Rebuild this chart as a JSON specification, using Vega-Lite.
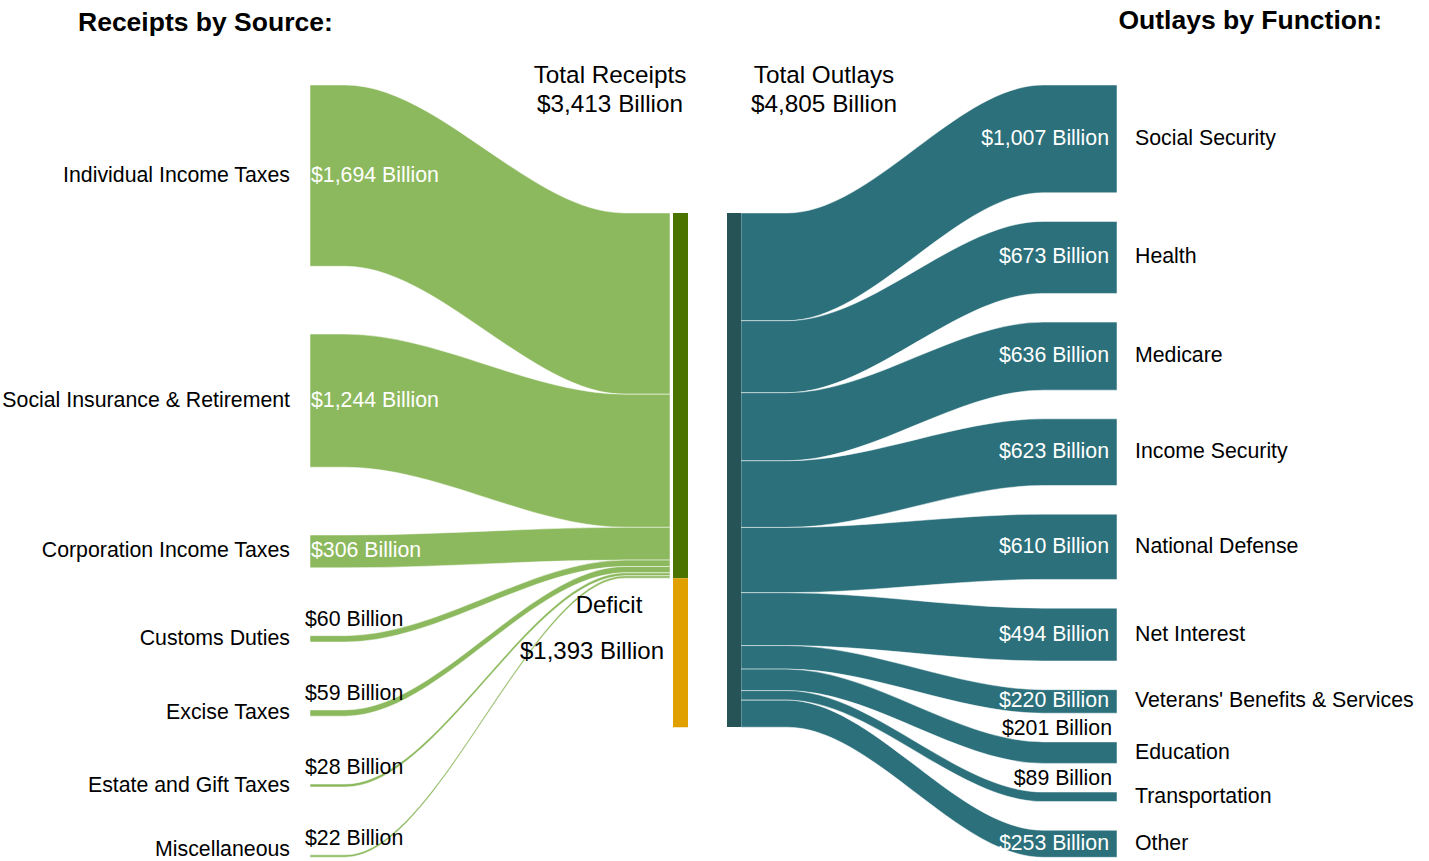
{
  "$schema": "https://vega.github.io/schema/vega-lite/v6.json",
  "width": 1429,
  "height": 861,
  "padding": 0,
  "autosize": {"type": "fit", "contains": "padding"},
  "config": {"view": {"stroke": null}, "text": {"font": "Liberation Sans", "fontSize": 21.3, "color": "#000000"}},
  "datasets": {
    "receipts": [
      {"source": "Individual Income Taxes", "value": 1694},
      {"source": "Social Insurance & Retirement", "value": 1244},
      {"source": "Corporation Income Taxes", "value": 306},
      {"source": "Customs Duties", "value": 60},
      {"source": "Excise Taxes", "value": 59},
      {"source": "Estate and Gift Taxes", "value": 28},
      {"source": "Miscellaneous", "value": 22}
    ],
    "outlays": [
      {"function": "Social Security", "value": 1007},
      {"function": "Health", "value": 673},
      {"function": "Medicare", "value": 636},
      {"function": "Income Security", "value": 623},
      {"function": "National Defense", "value": 610},
      {"function": "Net Interest", "value": 494},
      {"function": "Veterans' Benefits & Services", "value": 220},
      {"function": "Education", "value": 201},
      {"function": "Transportation", "value": 89},
      {"function": "Other", "value": 253}
    ],
    "totals": [
      {"name": "Total Receipts", "value": 3413, "column": "in"},
      {"name": "Deficit", "value": 1393, "column": "in"},
      {"name": "Total Outlays", "value": 4805, "column": "out"}
    ],
    "headings": [
      {"heading": "Receipts by Source:", "side": "left"},
      {"heading": "Outlays by Function:", "side": "right"}
    ]
  },
  "layer": [
    {
      "data": {"name": "receipts"},
      "transform": [
        {"window": [{"op": "sum", "field": "value", "as": "cum"}, {"op": "row_number", "as": "idx"}]},
        {"calculate": "datum.cum - datum.value + (datum.idx - 1) * 634", "as": "p1"},
        {"calculate": "datum.p1", "as": "p2"},
        {"calculate": "1196 + datum.cum - datum.value", "as": "p3"},
        {"calculate": "datum.p3", "as": "p4"},
        {"fold": ["p1", "p2", "p3", "p4"], "as": ["stage", "top"]},
        {"calculate": "datum.stage === 'p1' ? 310 : datum.stage === 'p2' ? 345 : datum.stage === 'p3' ? 625 : 670", "as": "px"},
        {"calculate": "datum.top + datum.value", "as": "bottom"}
      ],
      "mark": {"type": "area", "orient": "vertical", "interpolate": "monotone", "color": "#8DB95E", "stroke": "#ffffff", "strokeWidth": 0.5},
      "encoding": {
        "x": {"field": "px", "type": "quantitative", "scale": {"domain": [0, 1429], "nice": false, "zero": false}, "axis": null},
        "y": {"field": "top", "type": "quantitative", "scale": {"domain": [-794.4, 7252.3], "reverse": true, "nice": false, "zero": false}, "axis": null},
        "y2": {"field": "bottom"},
        "detail": {"field": "source", "type": "nominal"}
      }
    },
    {
      "data": {"name": "outlays"},
      "transform": [
        {"window": [{"op": "sum", "field": "value", "as": "cum"}, {"op": "row_number", "as": "idx"}]},
        {"calculate": "1196 + datum.cum - datum.value", "as": "p1"},
        {"calculate": "datum.p1", "as": "p2"},
        {"calculate": "datum.cum - datum.value + (datum.idx - 1) * 268", "as": "p3"},
        {"calculate": "datum.p3", "as": "p4"},
        {"fold": ["p1", "p2", "p3", "p4"], "as": ["stage", "top"]},
        {"calculate": "datum.stage === 'p1' ? 741 : datum.stage === 'p2' ? 787 : datum.stage === 'p3' ? 1043 : 1117", "as": "px"},
        {"calculate": "datum.top + datum.value", "as": "bottom"}
      ],
      "mark": {"type": "area", "orient": "vertical", "interpolate": "monotone", "color": "#2B707B", "stroke": "#ffffff", "strokeWidth": 0.5},
      "encoding": {
        "x": {"field": "px", "type": "quantitative", "scale": {"domain": [0, 1429], "nice": false, "zero": false}, "axis": null},
        "y": {"field": "top", "type": "quantitative", "scale": {"domain": [-794.4, 7252.3], "reverse": true, "nice": false, "zero": false}, "axis": null},
        "y2": {"field": "bottom"},
        "detail": {"field": "function", "type": "nominal"}
      }
    },
    {
      "data": {"name": "totals"},
      "transform": [
        {"window": [{"op": "sum", "field": "value", "as": "cum"}], "groupby": ["column"]},
        {"calculate": "1196 + datum.cum - datum.value", "as": "y0"},
        {"calculate": "1196 + datum.cum", "as": "y1"},
        {"calculate": "datum.column === 'in' ? 673 : 727", "as": "x0"},
        {"calculate": "datum.column === 'in' ? 688 : 741", "as": "x1"}
      ],
      "mark": {"type": "rect"},
      "encoding": {
        "x": {"field": "x0", "type": "quantitative", "scale": {"domain": [0, 1429], "nice": false, "zero": false}, "axis": null},
        "x2": {"field": "x1"},
        "y": {"field": "y0", "type": "quantitative", "scale": {"domain": [-794.4, 7252.3], "reverse": true, "nice": false, "zero": false}, "axis": null},
        "y2": {"field": "y1"},
        "color": {"field": "name", "type": "nominal", "scale": {"domain": ["Total Receipts", "Deficit", "Total Outlays"], "range": ["#4B7300", "#E0A100", "#255356"]}, "legend": null}
      }
    },
    {
      "data": {"name": "totals"},
      "transform": [
        {"filter": "datum.name !== 'Deficit'"},
        {"calculate": "[datum.name, '$' + format(datum.value, ',') + ' Billion']", "as": "label"},
        {"calculate": "datum.column === 'in' ? 610 : 824", "as": "lx"},
        {"calculate": "-85", "as": "ly"}
      ],
      "mark": {"type": "text", "align": "center", "baseline": "middle", "fontSize": 24.3, "lineHeight": 29},
      "encoding": {
        "x": {"field": "lx", "type": "quantitative", "scale": {"domain": [0, 1429], "nice": false, "zero": false}, "axis": null},
        "y": {"field": "ly", "type": "quantitative", "scale": {"domain": [-794.4, 7252.3], "reverse": true, "nice": false, "zero": false}, "axis": null},
        "text": {"field": "label"}
      }
    },
    {
      "data": {"name": "totals"},
      "transform": [
        {"filter": "datum.name === 'Deficit'"},
        {"calculate": "609", "as": "lx"},
        {"calculate": "4869", "as": "ly"}
      ],
      "mark": {"type": "text", "align": "center", "baseline": "middle", "fontSize": 24},
      "encoding": {
        "x": {"field": "lx", "type": "quantitative", "scale": {"domain": [0, 1429], "nice": false, "zero": false}, "axis": null},
        "y": {"field": "ly", "type": "quantitative", "scale": {"domain": [-794.4, 7252.3], "reverse": true, "nice": false, "zero": false}, "axis": null},
        "text": {"field": "name"}
      }
    },
    {
      "data": {"name": "totals"},
      "transform": [
        {"filter": "datum.name === 'Deficit'"},
        {"calculate": "'$' + format(datum.value, ',') + ' Billion'", "as": "label"},
        {"calculate": "592", "as": "lx"},
        {"calculate": "5299", "as": "ly"}
      ],
      "mark": {"type": "text", "align": "center", "baseline": "middle", "fontSize": 24},
      "encoding": {
        "x": {"field": "lx", "type": "quantitative", "scale": {"domain": [0, 1429], "nice": false, "zero": false}, "axis": null},
        "y": {"field": "ly", "type": "quantitative", "scale": {"domain": [-794.4, 7252.3], "reverse": true, "nice": false, "zero": false}, "axis": null},
        "text": {"field": "label"}
      }
    },
    {
      "data": {"name": "receipts"},
      "transform": [
        {"window": [{"op": "sum", "field": "value", "as": "cum"}, {"op": "row_number", "as": "idx"}]},
        {"calculate": "datum.cum - datum.value + (datum.idx - 1) * 634", "as": "top"},
        {"calculate": "min(datum.top + datum.value / 2, 7150)", "as": "ny"},
        {"calculate": "290", "as": "lx"}
      ],
      "mark": {"type": "text", "align": "right", "baseline": "middle"},
      "encoding": {
        "x": {"field": "lx", "type": "quantitative", "scale": {"domain": [0, 1429], "nice": false, "zero": false}, "axis": null},
        "y": {"field": "ny", "type": "quantitative", "scale": {"domain": [-794.4, 7252.3], "reverse": true, "nice": false, "zero": false}, "axis": null},
        "text": {"field": "source"}
      }
    },
    {
      "data": {"name": "receipts"},
      "transform": [
        {"window": [{"op": "sum", "field": "value", "as": "cum"}, {"op": "row_number", "as": "idx"}]},
        {"calculate": "datum.cum - datum.value + (datum.idx - 1) * 634", "as": "top"},
        {"calculate": "datum.top + datum.value / 2", "as": "mid"},
        {"calculate": "'$' + format(datum.value, ',') + ' Billion'", "as": "label"},
        {"calculate": "311", "as": "lx"},
        {"filter": "datum.value >= 300"}
      ],
      "mark": {"type": "text", "align": "left", "baseline": "middle", "color": "#ffffff"},
      "encoding": {
        "x": {"field": "lx", "type": "quantitative", "scale": {"domain": [0, 1429], "nice": false, "zero": false}, "axis": null},
        "y": {"field": "mid", "type": "quantitative", "scale": {"domain": [-794.4, 7252.3], "reverse": true, "nice": false, "zero": false}, "axis": null},
        "text": {"field": "label"}
      }
    },
    {
      "data": {"name": "receipts"},
      "transform": [
        {"window": [{"op": "sum", "field": "value", "as": "cum"}, {"op": "row_number", "as": "idx"}]},
        {"calculate": "datum.cum - datum.value + (datum.idx - 1) * 634", "as": "top"},
        {"calculate": "'$' + format(datum.value, ',') + ' Billion'", "as": "label"},
        {"calculate": "305", "as": "lx"},
        {"filter": "datum.value < 300"}
      ],
      "mark": {"type": "text", "align": "left", "baseline": "bottom", "dy": -6},
      "encoding": {
        "x": {"field": "lx", "type": "quantitative", "scale": {"domain": [0, 1429], "nice": false, "zero": false}, "axis": null},
        "y": {"field": "top", "type": "quantitative", "scale": {"domain": [-794.4, 7252.3], "reverse": true, "nice": false, "zero": false}, "axis": null},
        "text": {"field": "label"}
      }
    },
    {
      "data": {"name": "outlays"},
      "transform": [
        {"window": [{"op": "sum", "field": "value", "as": "cum"}, {"op": "row_number", "as": "idx"}]},
        {"calculate": "datum.cum - datum.value + (datum.idx - 1) * 268", "as": "top"},
        {"calculate": "datum.top + datum.value / 2", "as": "mid"},
        {"calculate": "1135", "as": "lx"}
      ],
      "mark": {"type": "text", "align": "left", "baseline": "middle"},
      "encoding": {
        "x": {"field": "lx", "type": "quantitative", "scale": {"domain": [0, 1429], "nice": false, "zero": false}, "axis": null},
        "y": {"field": "mid", "type": "quantitative", "scale": {"domain": [-794.4, 7252.3], "reverse": true, "nice": false, "zero": false}, "axis": null},
        "text": {"field": "function"}
      }
    },
    {
      "data": {"name": "outlays"},
      "transform": [
        {"window": [{"op": "sum", "field": "value", "as": "cum"}, {"op": "row_number", "as": "idx"}]},
        {"calculate": "datum.cum - datum.value + (datum.idx - 1) * 268", "as": "top"},
        {"calculate": "datum.top + datum.value / 2", "as": "mid"},
        {"calculate": "'$' + format(datum.value, ',') + ' Billion'", "as": "label"},
        {"calculate": "1109", "as": "lx"},
        {"filter": "datum.value >= 210"}
      ],
      "mark": {"type": "text", "align": "right", "baseline": "middle", "color": "#ffffff"},
      "encoding": {
        "x": {"field": "lx", "type": "quantitative", "scale": {"domain": [0, 1429], "nice": false, "zero": false}, "axis": null},
        "y": {"field": "mid", "type": "quantitative", "scale": {"domain": [-794.4, 7252.3], "reverse": true, "nice": false, "zero": false}, "axis": null},
        "text": {"field": "label"}
      }
    },
    {
      "data": {"name": "outlays"},
      "transform": [
        {"window": [{"op": "sum", "field": "value", "as": "cum"}, {"op": "row_number", "as": "idx"}]},
        {"calculate": "datum.cum - datum.value + (datum.idx - 1) * 268", "as": "top"},
        {"calculate": "'$' + format(datum.value, ',') + ' Billion'", "as": "label"},
        {"calculate": "1112", "as": "lx"},
        {"filter": "datum.value < 210"}
      ],
      "mark": {"type": "text", "align": "right", "baseline": "bottom", "dy": -3},
      "encoding": {
        "x": {"field": "lx", "type": "quantitative", "scale": {"domain": [0, 1429], "nice": false, "zero": false}, "axis": null},
        "y": {"field": "top", "type": "quantitative", "scale": {"domain": [-794.4, 7252.3], "reverse": true, "nice": false, "zero": false}, "axis": null},
        "text": {"field": "label"}
      }
    },
    {
      "data": {"name": "headings"},
      "transform": [
        {"filter": "datum.side === 'left'"},
        {"calculate": "78", "as": "lx"},
        {"calculate": "-580", "as": "ly"}
      ],
      "mark": {"type": "text", "align": "left", "baseline": "middle", "fontSize": 26.5, "fontWeight": "bold"},
      "encoding": {
        "x": {"field": "lx", "type": "quantitative", "scale": {"domain": [0, 1429], "nice": false, "zero": false}, "axis": null},
        "y": {"field": "ly", "type": "quantitative", "scale": {"domain": [-794.4, 7252.3], "reverse": true, "nice": false, "zero": false}, "axis": null},
        "text": {"field": "heading"}
      }
    },
    {
      "data": {"name": "headings"},
      "transform": [
        {"filter": "datum.side === 'right'"},
        {"calculate": "1382", "as": "lx"},
        {"calculate": "-598", "as": "ly"}
      ],
      "mark": {"type": "text", "align": "right", "baseline": "middle", "fontSize": 26.5, "fontWeight": "bold"},
      "encoding": {
        "x": {"field": "lx", "type": "quantitative", "scale": {"domain": [0, 1429], "nice": false, "zero": false}, "axis": null},
        "y": {"field": "ly", "type": "quantitative", "scale": {"domain": [-794.4, 7252.3], "reverse": true, "nice": false, "zero": false}, "axis": null},
        "text": {"field": "heading"}
      }
    }
  ]
}
